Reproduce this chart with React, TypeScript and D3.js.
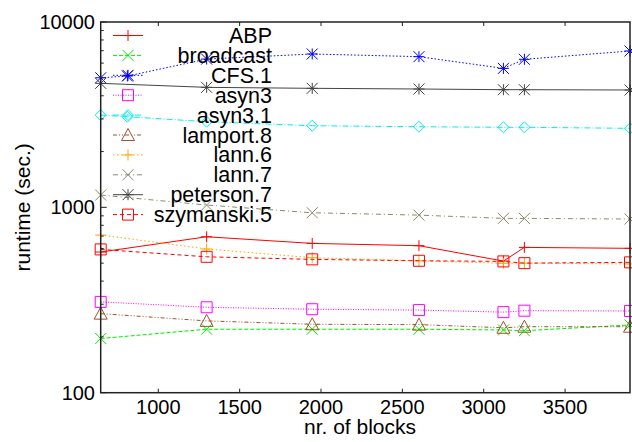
import * as d3 from "d3";

// nr. of blocks (x values)
const blocksAll = [646, 810, 1297, 1946, 2602, 3121, 3250, 3899];
const blocks = [646, 1297, 1946, 2602, 3121, 3250, 3899];

const abp = [574, 694, 639, 621, 513, 608, 601];
const broadcast = [196, 220, 220, 220, 218, 216, 232];
const cfs1 = [5000, 5110, 6310, 6720, 6500, 5620, 6290, 6975];
const asyn3 = [309, 289, 282, 279, 272, 277, 276];
const asyn31 = [3148, 3083, 2897, 2756, 2722, 2703, 2703, 2669];
const lamport8 = [267, 244, 234, 233, 224, 227, 227];
const lann6 = [709, 596, 535, 515, 499, 500, 495];
const lann7 = [1165, 1029, 935, 908, 872, 872, 865];
const peterson7 = [4667, 4440, 4387, 4350, 4313, 4313, 4296];
const szymanski5 = [593, 541, 524, 515, 511, 500, 505];

const xTicks = [1000, 1500, 2000, 2500, 3000, 3500];
const yTicks = [100, 1000, 10000];

type Marker = "plus" | "cross" | "star" | "square" | "diamond" | "triangle";

const series = [
  { name: "ABP", xs: blocks, ys: abp, color: "#ff0000", dash: "none", marker: "plus" },
  { name: "broadcast", xs: blocks, ys: broadcast, color: "#00ee00", dash: "4 2", marker: "cross" },
  { name: "CFS.1", xs: blocksAll, ys: cfs1, color: "#0000ff", dash: "1.5 2", marker: "star" },
  { name: "asyn3", xs: blocks, ys: asyn3, color: "#ff00ff", dash: "1 1.5", marker: "square" },
  { name: "asyn3.1", xs: blocksAll, ys: asyn31, color: "#00eeee", dash: "6 2 1 2", marker: "diamond" },
  { name: "lamport.8", xs: blocks, ys: lamport8, color: "#a0522d", dash: "4 2 1 2 1 2", marker: "triangle" },
  { name: "lann.6", xs: blocks, ys: lann6, color: "#ffa500", dash: "1.5 2.5", marker: "plus" },
  { name: "lann.7", xs: blocks, ys: lann7, color: "#8b8b6a", dash: "5 3 1 3", marker: "cross" },
  { name: "peterson.7", xs: blocks, ys: peterson7, color: "#444444", dash: "none", marker: "star" },
  { name: "szymanski.5", xs: blocks, ys: szymanski5, color: "#ff0000", dash: "4 3", marker: "square" },
];

function markerPath(type: Marker, cx: number, cy: number) {
  const r = 5.5;
  switch (type) {
    case "plus":
      return `M${cx - r},${cy}H${cx + r}M${cx},${cy - r}V${cy + r}`;
    case "cross":
      return `M${cx - r},${cy - r}L${cx + r},${cy + r}M${cx - r},${cy + r}L${cx + r},${cy - r}`;
    case "star":
      return (
        `M${cx - r},${cy}H${cx + r}M${cx},${cy - r}V${cy + r}` +
        `M${cx - r},${cy - r}L${cx + r},${cy + r}M${cx - r},${cy + r}L${cx + r},${cy - r}`
      );
    case "square":
      return `M${cx - r},${cy - r}H${cx + r}V${cy + r}H${cx - r}Z`;
    case "diamond":
      return `M${cx},${cy - r}L${cx + r},${cy}L${cx},${cy + r}L${cx - r},${cy}Z`;
    case "triangle":
      return `M${cx},${cy - r - 1}L${cx + r + 1},${cy + r}L${cx - r - 1},${cy + r}Z`;
  }
}

export default function App() {
  const width = 632;
  const height = 442;
  const left = 100.7;
  const right = 630;
  const top = 22;
  const bottom = 392.7;

  const x = d3.scaleLinear().domain([646, 3899]).range([left, right]);
  const y = d3.scaleLog().domain([100, 10000]).range([bottom, top]);

  const minor: number[] = [];
  for (const base of [100, 1000]) {
    for (let k = 2; k <= 9; k++) minor.push(base * k);
  }

  const font = "'Liberation Sans', Arial, Helvetica, sans-serif";

  return (
    <svg
      width={width}
      height={height}
      style={{ position: "absolute", left: 0, top: 0, background: "white" }}
      fontFamily={font}
    >
      {/* series */}
      {series.map((s) => {
        const pts = s.xs.map((v, i) => [x(v), y(s.ys[i])] as [number, number]);
        const line = d3.line()(pts);
        return (
          <g key={s.name}>
            <path
              d={line ?? ""}
              fill="none"
              stroke={s.color}
              strokeWidth={1}
              strokeDasharray={s.dash}
            />
            {pts.map(([px, py], i) => (
              <path
                key={i}
                d={markerPath(s.marker as Marker, px, py)}
                fill="none"
                stroke={s.color}
                strokeWidth={1}
              />
            ))}
          </g>
        );
      })}

      {/* legend */}
      {series.map((s, i) => {
        const ly = 35.5 + i * 19.9;
        return (
          <g key={s.name}>
            <line
              x1={113}
              x2={143}
              y1={ly}
              y2={ly}
              stroke={s.color}
              strokeWidth={1}
              strokeDasharray={s.dash}
            />
            <path
              d={markerPath(s.marker as Marker, 128, ly)}
              fill="none"
              stroke={s.color}
              strokeWidth={1}
            />
            <text x={272} y={ly + 7.5} textAnchor="end" fontSize={21.5} fill="black">
              {s.name}
            </text>
          </g>
        );
      })}

      {/* frame */}
      <rect
        x={left}
        y={top}
        width={right - left}
        height={bottom - top}
        fill="none"
        stroke="#222"
        strokeWidth={1.5}
      />

      {/* x ticks */}
      {xTicks.map((t) => (
        <g key={t}>
          <line x1={x(t)} x2={x(t)} y1={bottom} y2={bottom - 4} stroke="#222" />
          <line x1={x(t)} x2={x(t)} y1={top} y2={top + 4} stroke="#222" />
          <text x={x(t)} y={413.5} textAnchor="middle" fontSize={20} fill="black">
            {t}
          </text>
        </g>
      ))}

      {/* y ticks */}
      {yTicks.map((t) => (
        <g key={t}>
          <line x1={left} x2={left + 6} y1={y(t)} y2={y(t)} stroke="#222" />
          <text x={95} y={y(t) + 7} textAnchor="end" fontSize={20} fill="black">
            {t}
          </text>
        </g>
      ))}
      {minor.map((t) => (
        <line key={t} x1={left} x2={left + 3} y1={y(t)} y2={y(t)} stroke="#222" />
      ))}

      {/* axis titles */}
      <text x={360} y={434} textAnchor="middle" fontSize={21} fill="black">
        nr. of blocks
      </text>
      <text
        transform={`translate(30,${(top + bottom) / 2}) rotate(-90)`}
        textAnchor="middle"
        fontSize={21}
        fill="black"
      >
        runtime (sec.)
      </text>
    </svg>
  );
}
